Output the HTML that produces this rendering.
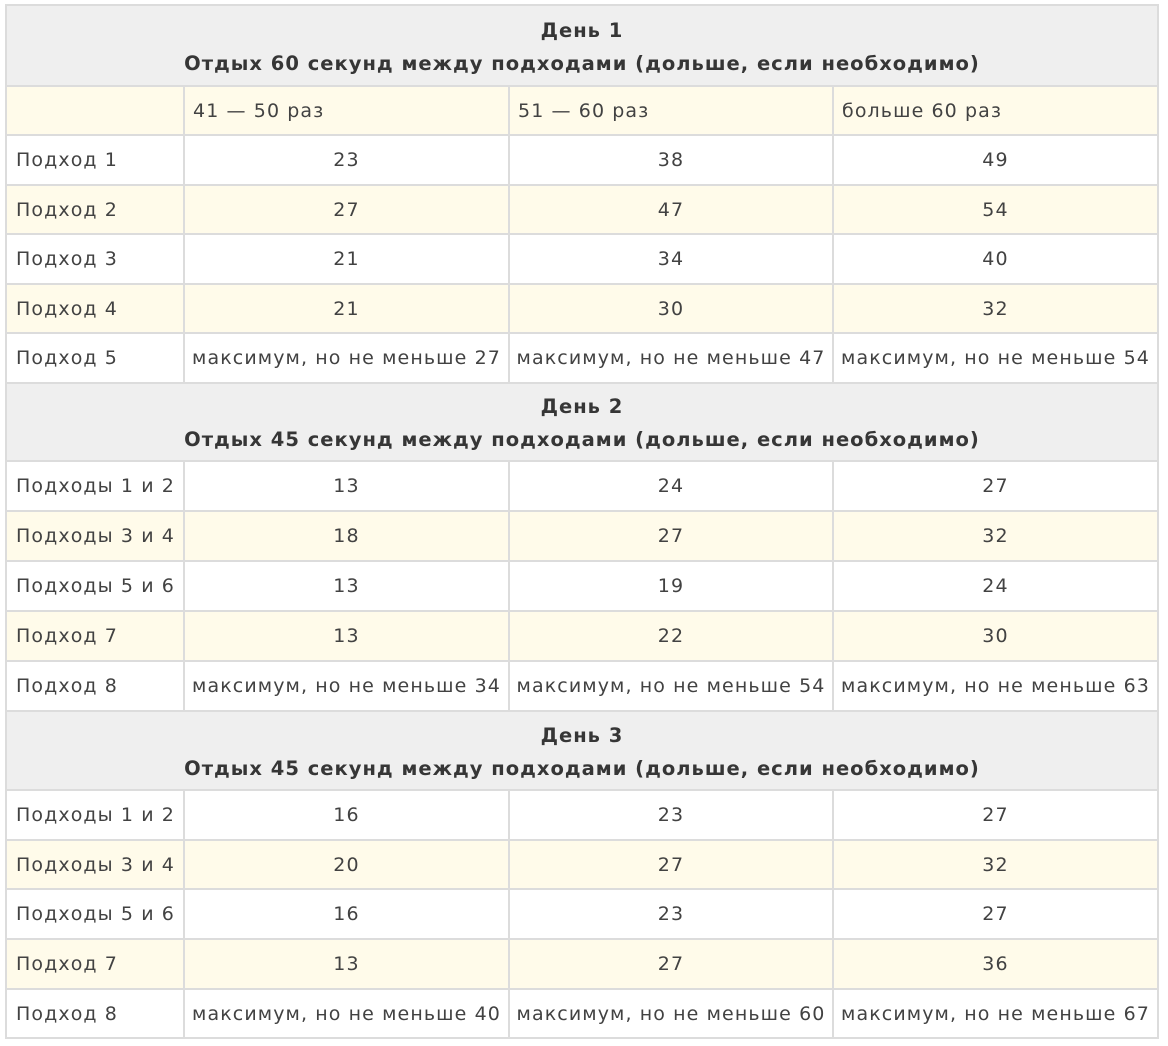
<!DOCTYPE html>
<html><head><meta charset="utf-8">
<style>
html,body{margin:0;padding:0;background:#fff;width:1168px;height:1046px;overflow:hidden;}
body{position:relative;font-family:"DejaVu Sans","Liberation Sans",sans-serif;}
.grid{position:absolute;left:5px;top:4px;width:1154px;height:1035px;background:#dcdcdc;}
.r{position:absolute;left:0;width:1168px;}
.c{position:absolute;top:0;height:100%;display:flex;align-items:center;justify-content:center;font-size:19px;letter-spacing:1.1px;color:#424242;white-space:nowrap;background:#fff;}
.y .c{background:#fffbea;}
.c1{left:7px;width:176px;justify-content:flex-start;padding-left:9px;box-sizing:border-box;}
.c2{left:185px;width:323px;}
.c3{left:510px;width:322px;}
.c4{left:834px;width:323px;}
.l{justify-content:flex-start;padding-left:8px;box-sizing:border-box;}
.h{position:absolute;left:7px;width:1150px;background:#efefef;display:flex;flex-direction:column;align-items:center;justify-content:center;font-weight:bold;font-size:19.5px;letter-spacing:1px;color:#363636;line-height:33px;white-space:nowrap;padding-top:2px;box-sizing:border-box;}
</style></head><body>
<div class="grid"></div>

<div class="h" style="top:6px;height:79px;"><div>День 1</div><div>Отдых 60 секунд между подходами (дольше, если необходимо)</div></div>

<div class="r y" style="top:87px;height:47px;"><div class="c c1"></div><div class="c c2 l">41 — 50 раз</div><div class="c c3 l">51 — 60 раз</div><div class="c c4 l">больше 60 раз</div></div>
<div class="r" style="top:136px;height:48px;"><div class="c c1">Подход 1</div><div class="c c2">23</div><div class="c c3">38</div><div class="c c4">49</div></div>
<div class="r y" style="top:186px;height:47px;"><div class="c c1">Подход 2</div><div class="c c2">27</div><div class="c c3">47</div><div class="c c4">54</div></div>
<div class="r" style="top:235px;height:48px;"><div class="c c1">Подход 3</div><div class="c c2">21</div><div class="c c3">34</div><div class="c c4">40</div></div>
<div class="r y" style="top:285px;height:47px;"><div class="c c1">Подход 4</div><div class="c c2">21</div><div class="c c3">30</div><div class="c c4">32</div></div>
<div class="r" style="top:334px;height:48px;"><div class="c c1">Подход 5</div><div class="c c2">максимум, но не меньше 27</div><div class="c c3">максимум, но не меньше 47</div><div class="c c4">максимум, но не меньше 54</div></div>

<div class="h" style="top:384px;height:76px;"><div>День 2</div><div>Отдых 45 секунд между подходами (дольше, если необходимо)</div></div>

<div class="r" style="top:462px;height:48px;"><div class="c c1">Подходы 1 и 2</div><div class="c c2">13</div><div class="c c3">24</div><div class="c c4">27</div></div>
<div class="r y" style="top:512px;height:48px;"><div class="c c1">Подходы 3 и 4</div><div class="c c2">18</div><div class="c c3">27</div><div class="c c4">32</div></div>
<div class="r" style="top:562px;height:48px;"><div class="c c1">Подходы 5 и 6</div><div class="c c2">13</div><div class="c c3">19</div><div class="c c4">24</div></div>
<div class="r y" style="top:612px;height:48px;"><div class="c c1">Подход 7</div><div class="c c2">13</div><div class="c c3">22</div><div class="c c4">30</div></div>
<div class="r" style="top:662px;height:48px;"><div class="c c1">Подход 8</div><div class="c c2">максимум, но не меньше 34</div><div class="c c3">максимум, но не меньше 54</div><div class="c c4">максимум, но не меньше 63</div></div>

<div class="h" style="top:712px;height:77px;"><div>День 3</div><div>Отдых 45 секунд между подходами (дольше, если необходимо)</div></div>

<div class="r" style="top:791px;height:48px;"><div class="c c1">Подходы 1 и 2</div><div class="c c2">16</div><div class="c c3">23</div><div class="c c4">27</div></div>
<div class="r y" style="top:841px;height:47px;"><div class="c c1">Подходы 3 и 4</div><div class="c c2">20</div><div class="c c3">27</div><div class="c c4">32</div></div>
<div class="r" style="top:890px;height:48px;"><div class="c c1">Подходы 5 и 6</div><div class="c c2">16</div><div class="c c3">23</div><div class="c c4">27</div></div>
<div class="r y" style="top:940px;height:48px;"><div class="c c1">Подход 7</div><div class="c c2">13</div><div class="c c3">27</div><div class="c c4">36</div></div>
<div class="r" style="top:990px;height:47px;"><div class="c c1">Подход 8</div><div class="c c2">максимум, но не меньше 40</div><div class="c c3">максимум, но не меньше 60</div><div class="c c4">максимум, но не меньше 67</div></div>

</body></html>
